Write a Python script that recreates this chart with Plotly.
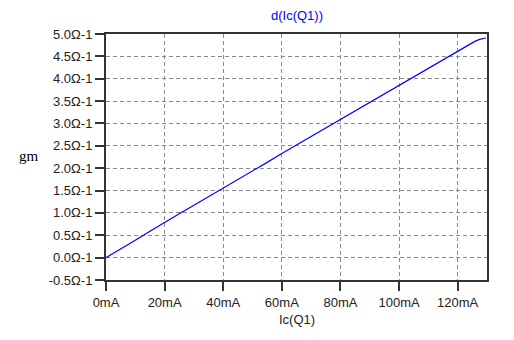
import plotly.graph_objects as go

ic_ma = [0, 5, 10, 15, 20, 25, 30, 35, 40, 45, 50, 55, 60, 65, 70, 75, 80, 85, 90, 95,
         100, 105, 110, 115, 120, 124, 126, 127.5, 129.6]
gm = [0.0, 0.19, 0.39, 0.59, 0.79, 0.98, 1.17, 1.36, 1.55, 1.75, 1.94, 2.13, 2.33, 2.52,
      2.71, 2.91, 3.10, 3.29, 3.47, 3.66, 3.85, 4.04, 4.23, 4.42, 4.61, 4.77, 4.84, 4.88, 4.91]

x_tickvals = [0, 20, 40, 60, 80, 100, 120]
x_ticktext = ["0mA", "20mA", "40mA", "60mA", "80mA", "100mA", "120mA"]
y_tickvals = [-0.5, 0.0, 0.5, 1.0, 1.5, 2.0, 2.5, 3.0, 3.5, 4.0, 4.5, 5.0]
y_ticktext = ["-0.5Ω-1", "0.0Ω-1", "0.5Ω-1", "1.0Ω-1", "1.5Ω-1", "2.0Ω-1", "2.5Ω-1",
              "3.0Ω-1", "3.5Ω-1", "4.0Ω-1", "4.5Ω-1", "5.0Ω-1"]

fig = go.Figure()
fig.add_trace(go.Scatter(x=ic_ma, y=gm, mode="lines",
                         line=dict(color="#0000FF", width=1.2), showlegend=False))

tickfont = dict(family="Liberation Sans, Arial", size=13, color="#222")
axis_common = dict(
    showline=True, linecolor="#333", linewidth=2, mirror=True,
    ticks="outside", ticklen=9, tickcolor="#333", tickwidth=1.5,
    showgrid=True, gridcolor="#8a8a8a", gridwidth=1, griddash="4px,3px",
    zeroline=False, tickfont=tickfont,
)

fig.update_layout(
    width=514, height=340,
    margin=dict(l=98, r=35, t=26, b=68),
    paper_bgcolor="white", plot_bgcolor="white",
    xaxis=dict(range=[0, 130], tickvals=x_tickvals, ticktext=x_ticktext, **axis_common),
    yaxis=dict(range=[-0.5, 5.0], tickvals=y_tickvals, ticktext=y_ticktext, **axis_common),
    annotations=[
        dict(text="d(Ic(Q1))", xref="paper", yref="paper", x=0.5, y=1, yshift=19,
             xanchor="center", yanchor="middle", showarrow=False,
             font=dict(family="Liberation Sans, Arial", size=13, color="#0000FF")),
        dict(text="Ic(Q1)", xref="paper", yref="paper", x=0.5, y=0, yshift=-39,
             xanchor="center", yanchor="middle", showarrow=False,
             font=dict(family="Liberation Sans, Arial", size=13, color="#222")),
        dict(text="gm", xref="paper", yref="paper", x=0, xshift=-77,
             y=(280 - 156) / (280 - 34),
             xanchor="center", yanchor="middle", showarrow=False,
             font=dict(family="Liberation Serif, Times New Roman", size=15, color="#000")),
    ],
)

fig.write_html("out.html")
